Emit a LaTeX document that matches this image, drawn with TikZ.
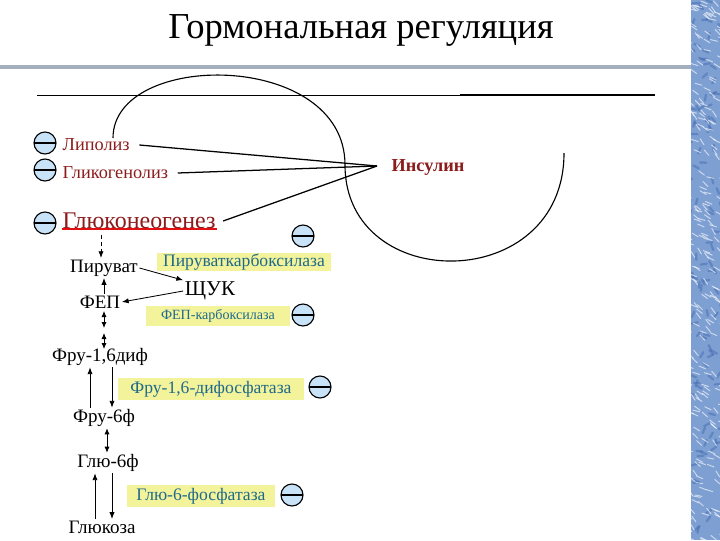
\documentclass[tikz,border=0pt]{standalone}
\usepackage{fontspec}
\setmainfont{Liberation Serif}
\usetikzlibrary{arrows.meta}
\definecolor{weinrot}{HTML}{8C1C1C}
\definecolor{rot}{HTML}{E01010}
\definecolor{enzblau}{HTML}{1F6A8A}
\definecolor{gelb}{HTML}{F3F39C}
\definecolor{hblau}{HTML}{C8E3F7}
\definecolor{grau}{HTML}{A3AFBD}
\definecolor{eisblau}{HTML}{7E9FD2}
\definecolor{tiefblau}{HTML}{3F67AE}
\tikzset{
  pfeil/.style={-{Latex[length=1.7mm,width=1.3mm]},black,line width=0.6pt},
  dpfeil/.style={{Latex[length=1.5mm,width=1.3mm]}-{Latex[length=1.5mm,width=1.3mm]},black,line width=0.6pt},
  hemm/.style={circle,draw=black,fill=hblau,line width=0.8pt,minimum size=0.55cm,inner sep=0pt,
    path picture={\draw[line width=0.9pt] (path picture bounding box.west)--(path picture bounding box.east);}},
  enzym/.style={fill=gelb,text=enzblau,inner sep=0pt,font=\fontsize{12.5}{14}\selectfont},
  stoff/.style={inner sep=1pt,font=\fontsize{13.5}{15}\selectfont},
  prozess/.style={anchor=west,inner sep=1pt,text=weinrot,font=\fontsize{13}{15}\selectfont},
  kurve/.style={black,line width=0.8pt},
}
\begin{document}
\begin{tikzpicture}[x=0.025cm,y=-0.025cm]
  \useasboundingbox (0,0) rectangle (720,540);
  \fill[white] (0,0) rectangle (720,540);
  \begin{scope}
    \clip (691,0) rectangle (720,540);
    \fill[eisblau] (691,0) rectangle (720,540);
    \pgfmathsetseed{11}
    \foreach \i in {1,...,140}{
      \pgfmathsetmacro\xx{684+rnd*40}
      \pgfmathsetmacro\yy{rnd*545}
      \pgfmathsetmacro\ww{rnd*360}
      \draw[tiefblau,opacity=0.45,line width=1.6pt,line cap=round] (\xx,\yy)--++(\ww:6);
    }
    \foreach \i in {1,...,260}{
      \pgfmathsetmacro\xx{684+rnd*40}
      \pgfmathsetmacro\yy{rnd*545}
      \pgfmathsetmacro\ww{10+rnd*50}
      \draw[white,opacity=0.6,line width=0.7pt,line cap=round] (\xx,\yy)--++(\ww:7);
    }
  \end{scope}
  \node[font=\fontsize{26}{30}\selectfont] (titel) at (361,30) {Гормональная регуляция};
  \draw[grau,line width=2.2pt] (0,67)--(691,67);
  \draw[black,line width=0.6pt] (37,95)--(460,95);
  \draw[black,line width=1.6pt] (460,95)--(655,95);
  \draw[kurve] (113,138) .. controls (113,50) and (345,50) .. (345,165)
    .. controls (345,295) and (564,295) .. (564,153);

  \node[hemm] (h1) at (45,143) {};
  \node[hemm] (h2) at (45,170) {};
  \node[hemm] (h3) at (45,223) {};
  \node[prozess] (lip) at (61,145) {Липолиз};
  \node[prozess] (glg) at (61,173) {Гликогенолиз};
  \node[prozess,font=\fontsize{17}{19}\selectfont] (gng) at (61,221) {Глюконеогенез};
  \draw[rot,line width=1.6pt] (gng.south west)++(1,-2) coordinate (u1) -- (u1 -| gng.east);
  \node[text=weinrot,font=\bfseries\fontsize{13}{15}\selectfont] (ins) at (428,167) {Инсулин};
  \coordinate (spitze) at (377,166);
  \draw[black,line width=0.9pt] (lip.east)++(8,0) coordinate (l1) -- (spitze);
  \draw[black,line width=0.9pt] (glg.east)++(8,0) coordinate (l2) -- (spitze);
  \draw[black,line width=0.9pt] (gng.east)++(6,0) coordinate (l3) -- (spitze);

  \node[stoff] (pir) at (104,268) {Пируват};
  \node[stoff] (fep) at (100,302) {ФЕП};
  \node[stoff,font=\fontsize{15}{17}\selectfont] (shuk) at (210,291) {ЩУК};
  \node[stoff] (fru16) at (100,357) {Фру-1,6диф};
  \node[stoff] (fru6) at (104,418) {Фру-6ф};
  \node[stoff] (glu6) at (108,463) {Глю-6ф};
  \node[stoff] (gluk) at (102,527) {Глюкоза};

  \node[enzym,minimum width=4.35cm,minimum height=0.45cm] (pk) at (244,262) {Пируваткарбоксилаза};
  \node[enzym,minimum width=3.575cm,minimum height=0.52cm,font=\fontsize{10}{12}\selectfont] (fk) at (218,316) {ФЕП-карбоксилаза};
  \node[enzym,minimum width=4.65cm,minimum height=0.55cm] (fd) at (211,389) {Фру-1,6-дифосфатаза};
  \node[enzym,minimum width=3.675cm,minimum height=0.55cm] (g6) at (201,496) {Глю-6-фосфатаза};
  \node[hemm] (h4) at (303,236) {};
  \node[hemm] (h5) at (303,315) {};
  \node[hemm] (h6) at (320,387) {};
  \node[hemm] (h7) at (292,495) {};

  \draw[pfeil,densely dashed] (pir.north |- gng.south)++(-3,4) coordinate (d1) -- (d1 |- pir.north);
  \draw[pfeil] (fep.north -| pir) ++(0,0) coordinate (f1) -- (f1 |- pir.south);
  \draw[pfeil] (pir.east) -- (shuk.north west);
  \draw[pfeil] (shuk.west) -- (fep.east);
  \coordinate (a1) at (104,311); \coordinate (a2) at (104,328);
  \coordinate (a3) at (104,333); \coordinate (a4) at (104,349);
  \draw[dpfeil] (a1) -- (a2);
  \draw[dpfeil] (a3) -- (a4);
  \draw[pfeil] (fru6.north -| 90,0) -- (fru16.south -| 90,0);
  \draw[pfeil] (fru16.south -| 112,0) -- (fru6.north -| 112,0);
  \draw[dpfeil] (fru6.south -| 107,0) -- (glu6.north -| 107,0);
  \draw[pfeil] (gluk.north -| 95,0) -- (glu6.south -| 95,0);
  \draw[pfeil] (glu6.south -| 112,0) -- (gluk.north -| 112,0);
\end{tikzpicture}
\end{document}
